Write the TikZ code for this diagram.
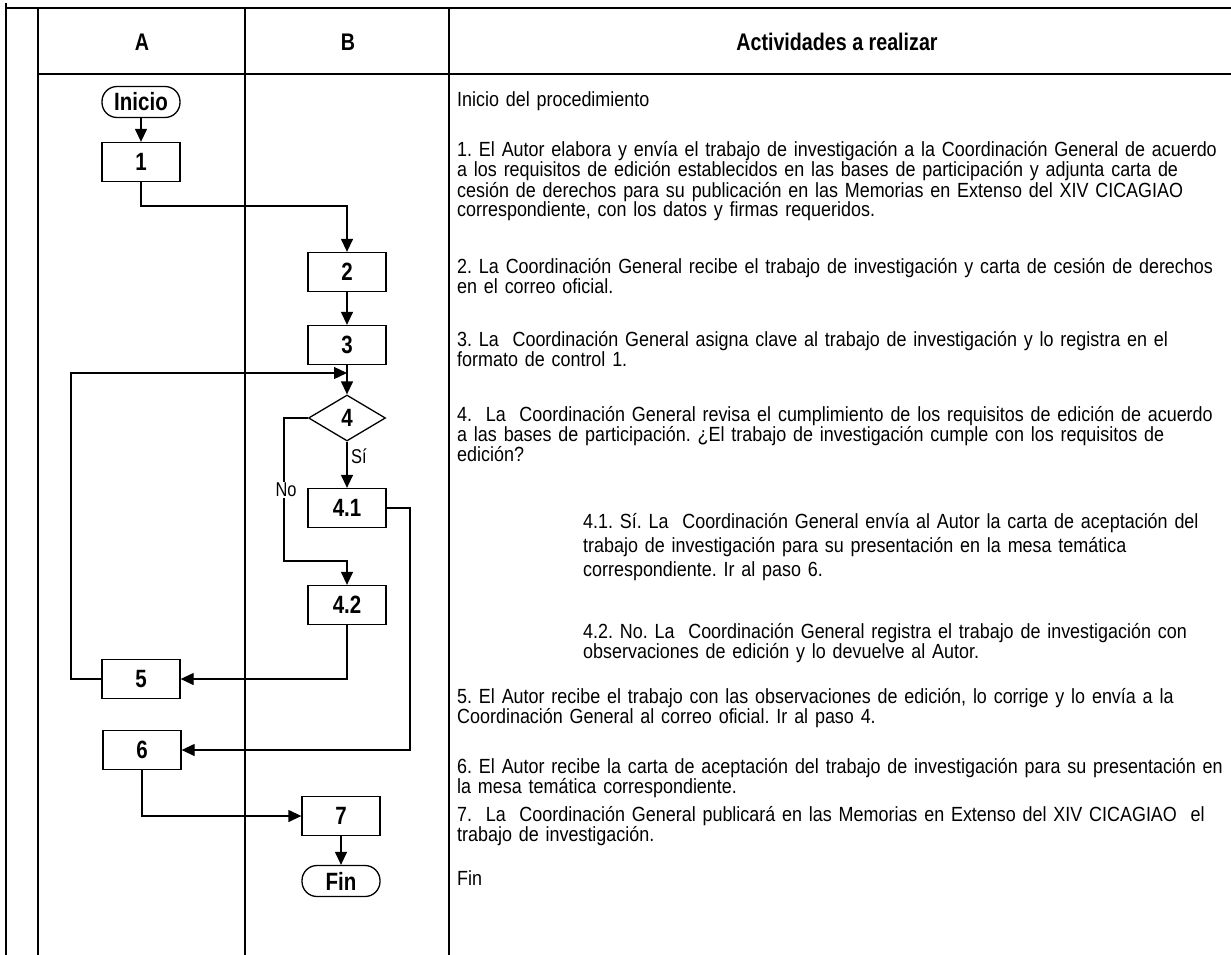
\documentclass[tikz,border=0pt]{standalone}
\usepackage{fontspec}
\setmainfont{Liberation Sans}[FakeStretch=0.82]
\newfontfamily\bodyfont{Liberation Sans}[FakeStretch=0.875]
\usetikzlibrary{arrows.meta,shapes.geometric}
\frenchspacing
\begin{document}
\begin{tikzpicture}[x=1pt,y=-1pt,
  box/.style={draw,line width=1.3pt,minimum width=78pt,minimum height=39pt,inner sep=0pt,font=\bfseries\fontsize{25}{25}\selectfont},
  term/.style={box,rounded corners=15pt,minimum height=31pt},
  dia/.style={draw,line width=1.3pt,diamond,aspect=1.67,minimum width=77pt,minimum height=46pt,inner sep=0pt,font=\bfseries\fontsize{25}{25}\selectfont},
  arr/.style={line width=1.3pt,-{Triangle[length=13pt,width=12pt]}},
  gridline/.style={line width=2pt},
  hdr/.style={font=\bfseries\fontsize{24}{24}\selectfont,inner sep=0pt},
  para/.style={anchor=base west,inner sep=0pt,text width=775pt,align=left,font=\bodyfont\frenchspacing\fontsize{20.5}{20}\selectfont},
  parb/.style={para,text width=640pt,font=\bodyfont\frenchspacing\fontsize{20.5}{24}\selectfont},
  lbl/.style={font=\fontsize{20}{20}\selectfont,inner sep=1pt}
]
\useasboundingbox[fill=white] (0,0) rectangle (1231,955);
% table grid
\draw[gridline] (6,3) -- (6,955);
\draw[gridline] (38,8) -- (38,955);
\draw[gridline] (6,8) -- (1231,8);
\draw[gridline] (245,8) -- (245,955);
\draw[gridline] (449,8) -- (449,955);
\draw[gridline] (38,74) -- (1231,74);
% header
\node[hdr] (hA) at (142,42) {A};
\node[hdr] (hB) at (348,42) {B};
\node[hdr] (hC) at (837,42) {Actividades a realizar};
% flow nodes
\node[term] (ini) at (141,102) {Inicio};
\node[box] (n1) at (141,162) {1};
\node[box] (n2) at (347,272) {2};
\node[box] (n3) at (347,345) {3};
\node[dia] (d4) at (347,418) {4};
\node[box] (n41) at (347,508) {4.1};
\node[box] (n42) at (347,605) {4.2};
\node[box] (n5) at (141,679) {5};
\node[box] (n6) at (142,750) {6};
\node[box] (n7) at (341,816) {7};
\node[term] (fin) at (341,881) {Fin};
% junctions
\coordinate (j1) at (250,206);
\coordinate (j5) at (71,373);
\coordinate (j4) at (284,561);
\coordinate (j41) at (410,750);
% connectors
\draw[arr] (ini) -- (n1);
\draw[arr] (n1.south) |- (j1) -| (n2.north);
\draw[arr] (n2) -- (n3);
\draw[arr] (n3) -- (d4);
\draw[arr] (n5.west) -| (j5) -- (j5 -| n3.south);
\draw[arr] (d4.west) -| (j4) -| (n42.north);
\draw[arr] (d4.south) -- (n41.north);
\draw[arr] (n41.east) -| (j41) -- (n6.east);
\draw[arr] (n42.south) |- (n5.east);
\draw[arr] (n6.south) |- (n7.west);
\draw[arr] (n7) -- (fin);
\node[lbl,fill=white] (no) at (286,490) {No};
\node[lbl,anchor=west] (si) at (350,456) {Sí};
% activity texts
\node[para] (t0) at (457,107) {Inicio del procedimiento};
\node[para] (t1) at (457,157) {1. El Autor elabora y envía el trabajo de investigación a la Coordinación General de acuerdo\\ a los requisitos de edición establecidos en las bases de participación y adjunta carta de\\ cesión de derechos para su publicación en las Memorias en Extenso del XIV CICAGIAO\\ correspondiente, con los datos y firmas requeridos.};
\node[para] (t2) at (457,273) {2. La Coordinación General recibe el trabajo de investigación y carta de cesión de derechos\\ en el correo oficial.};
\node[para] (t3) at (457,346) {3. La\ \ Coordinación General asigna clave al trabajo de investigación y lo registra en el\\ formato de control 1.};
\node[para] (t4) at (457,421) {4.\ \ La\ \ Coordinación General revisa el cumplimiento de los requisitos de edición de acuerdo\\ a las bases de participación. ¿El trabajo de investigación cumple con los requisitos de\\ edición?};
\node[parb] (t41) at (583,528) {4.1. Sí. La\ \ Coordinación General envía al Autor la carta de aceptación del\\ trabajo de investigación para su presentación en la mesa temática\\ correspondiente. Ir al paso 6.};
\node[para,text width=640pt] (t42) at (583,638) {4.2. No. La\ \ Coordinación General registra el trabajo de investigación con\\ observaciones de edición y lo devuelve al Autor.};
\node[para] (t5) at (457,703) {5. El Autor recibe el trabajo con las observaciones de edición, lo corrige y lo envía a la\\ Coordinación General al correo oficial. Ir al paso 4.};
\node[para] (t6) at (457,773) {6. El Autor recibe la carta de aceptación del trabajo de investigación para su presentación en\\ la mesa temática correspondiente.};
\node[para] (t7) at (457,821) {7.\ \ La\ \ Coordinación General publicará en las Memorias en Extenso del XIV CICAGIAO\ \ el\\ trabajo de investigación.};
\node[para] (tf) at (457,885) {Fin};
\end{tikzpicture}
\end{document}
